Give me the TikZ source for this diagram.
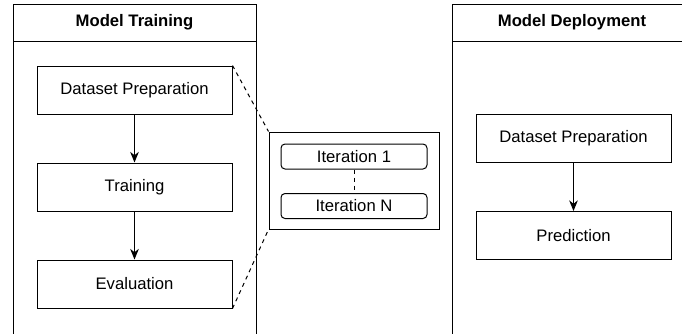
\documentclass[tikz,border=0pt]{standalone}
\usepackage{fontspec}
\setmainfont{Liberation Sans}
\usetikzlibrary{arrows.meta}

\begin{document}
\begin{tikzpicture}[x=0.75pt, y=-0.75pt,
    font=\fontsize{12.5}{15}\selectfont,
    lane/.style={draw, line width=0.75pt},
    lanetitle/.style={font=\fontsize{12.5}{15}\selectfont\bfseries},
    stagebox/.style={draw, line width=0.75pt, minimum width=146.25pt, minimum height=36pt, inner sep=0pt},
    iterbox/.style={draw, rounded corners=3pt, line width=0.75pt, minimum width=109.5pt, minimum height=18.75pt, inner sep=0pt},
    flow/.style={-{Stealth[length=8pt, width=6.5pt]}, line width=0.75pt},
    zoomline/.style={dashed, line width=0.75pt}]
    \useasboundingbox (0,0) rectangle (682,333);
    \clip (0,0) rectangle (682,333);

    % Lanes with their header bars
    \draw[lane] (13,4) rectangle (256,345);
    \draw[lane] (13,41) -- (256,41);
    \draw[lane] (452,4) rectangle (692,345);
    \draw[lane] (452,41) -- (692,41);
    \node[lanetitle] (trainTitle) at (134.5,22.5) {Model Training};
    \node[lanetitle] (deployTitle) at (572,22.5) {Model Deployment};

    % Training steps
    \node[stagebox] (prep) at (134.5,90) {Dataset Preparation};
    \node[stagebox] (train) at (134.5,187) {Training};
    \node[stagebox] (eval) at (134.5,284) {Evaluation};

    % Iterations of the training loop
    \node[draw, line width=0.75pt, minimum width=127.5pt, minimum height=72.75pt] (loop) at (354,180.5) {};
    \node[iterbox] (it1) at (354,156.5) {Iteration 1};
    \node[iterbox] (itN) at (354,206) {Iteration N};

    % Deployment steps
    \node[stagebox] (deployPrep) at (573.5,138.5) {Dataset Preparation};
    \node[stagebox] (predict) at (573.5,235.5) {Prediction};

    % Arrows
    \draw[flow] (prep) -- (train);
    \draw[flow] (train) -- (eval);
    \draw[flow] (deployPrep) -- (predict);

    % Dashed lines for the zoomed loop
    \draw[zoomline] (it1) -- (itN);
    \draw[zoomline] (prep.north east) -- (loop.north west);
    \draw[zoomline] (eval.south east) -- (loop.south west);
\end{tikzpicture}
\end{document}
